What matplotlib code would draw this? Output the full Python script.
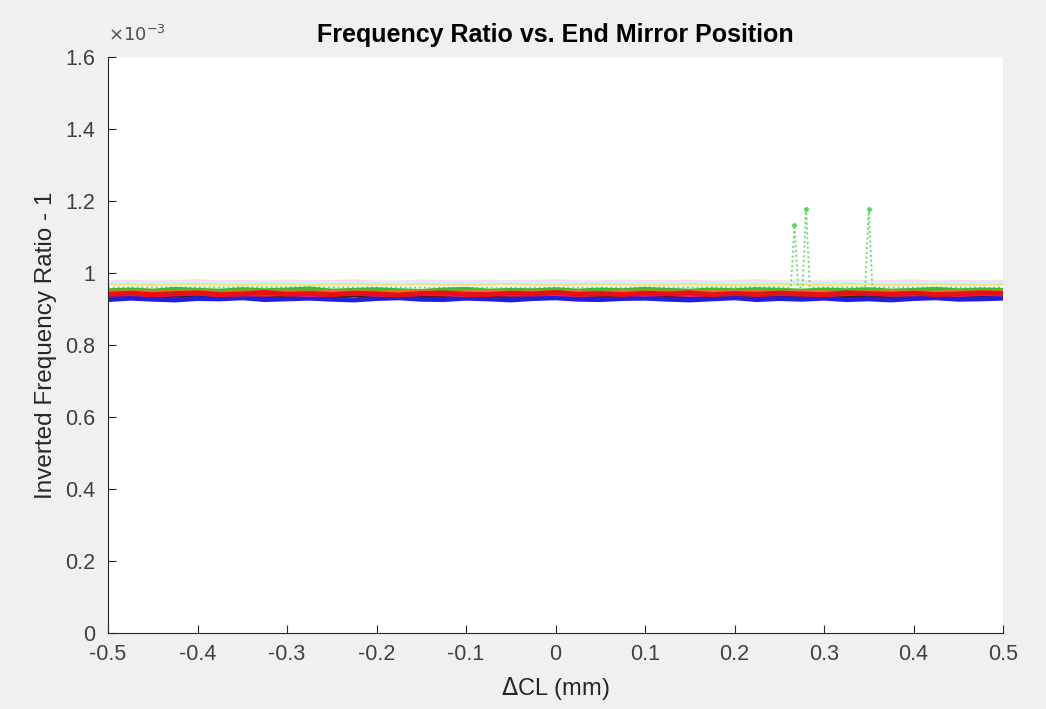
import matplotlib
matplotlib.use("Agg")
import matplotlib.pyplot as plt
from matplotlib.ticker import FuncFormatter
import numpy as np

plt.rcParams['font.family'] = ['Liberation Sans', 'DejaVu Sans']

# positions along the cavity (mm)
x_mm = [-0.500, -0.475, -0.450, -0.425, -0.400, -0.375, -0.350, -0.325, -0.300, -0.275,
        -0.250, -0.225, -0.200, -0.175, -0.150, -0.125, -0.100, -0.075, -0.050, -0.025,
        0.000, 0.025, 0.050, 0.075, 0.100, 0.125, 0.150, 0.175, 0.200, 0.225,
        0.250, 0.275, 0.300, 0.325, 0.350, 0.375, 0.400, 0.425, 0.450, 0.475,
        0.500]

# inverted frequency ratio - 1, in units of 1e-6
blue = [926, 930, 927, 925, 929, 928, 931, 926, 928, 930,
        927, 925, 929, 931, 927, 926, 930, 928, 925, 929,
        931, 927, 926, 929, 930, 927, 925, 928, 931, 926,
        929, 927, 930, 926, 928, 925, 929, 931, 927, 928,
        930]
red = [941, 944, 940, 943, 945, 940, 942, 946, 941, 943,
       940, 944, 942, 939, 943, 945, 941, 940, 944, 942,
       946, 941, 943, 940, 944, 942, 945, 940, 943, 941,
       944, 942, 940, 945, 943, 941, 944, 940, 942, 945,
       943]
dark = [935, 937, 934, 938, 936, 933, 937, 935, 938, 934,
        936, 939, 935, 933, 937, 936, 938, 934, 936, 937,
        935, 938, 934, 936, 937, 935, 933, 938, 936, 934,
        937, 935, 938, 936, 934, 937, 935, 936, 938, 934,
        936]
orange = [946, 948, 945, 947, 949, 944, 947, 946, 948, 945,
          947, 949, 945, 946, 948, 944, 947, 949, 945, 947,
          948, 946, 944, 947, 949, 946, 945, 948, 946, 947,
          945, 948, 946, 944, 947, 949, 946, 945, 948, 946,
          947]
green = [951, 953, 950, 955, 952, 950, 954, 951, 953, 956,
         950, 952, 954, 951, 949, 953, 955, 950, 952, 951,
         954, 950, 953, 951, 955, 952, 950, 953, 951, 954,
         952, 950, 953, 951, 954, 950, 952, 955, 951, 953,
         952]
magenta = [939, 941, 938, 940, 942, 938, 940, 939, 941, 938,
           940, 942, 939, 938, 941, 940, 938, 942, 939, 940,
           941, 938, 940, 942, 939, 941, 938, 940, 942, 939,
           941, 940, 938, 941, 943, 939, 940, 942, 938, 941,
           940]
pale_yellow = [968, 969, 967, 968, 969, 968, 967, 969, 968, 967,
               968, 969, 968, 967, 969, 968, 967, 968, 969, 968,
               967, 968, 969, 968, 967, 968, 969, 968, 967, 968,
               969, 968, 967, 969, 968, 967, 968, 969, 968, 967,
               968]
pale_pink = [974, 976, 973, 975, 977, 974, 975, 973, 976, 974,
             975, 977, 973, 974, 976, 975, 973, 976, 974, 975,
             977, 974, 973, 976, 975, 974, 976, 973, 975, 977,
             974, 975, 973, 976, 974, 975, 977, 973, 975, 974,
             976]
pale_cyan = [971, 972, 970, 973, 971, 972, 970, 971, 973, 970,
             972, 971, 970, 973, 972, 971, 970, 972, 973, 971,
             970, 972, 971, 973, 970, 971, 972, 970, 973, 971,
             972, 970, 971, 973, 972, 970, 971, 972, 970, 973,
             971]

# green dotted trace with the spikes
spike_x = [-0.500, -0.300, -0.100, 0.100, 0.250, 0.263, 0.267, 0.271, 0.276, 0.280,
           0.284, 0.290, 0.340, 0.346, 0.350, 0.354, 0.360, 0.500]
spike_y = [960, 961, 959, 960, 961, 960, 1133, 961, 960, 1178,
           962, 960, 961, 960, 1178, 961, 960, 960]

fig = plt.figure(figsize=(10.46, 7.09), dpi=100, facecolor='#f0f0f0')
ax = fig.add_axes([0.1033, 0.1072, 0.8556, 0.8124])
ax.set_facecolor('white')

s = 1e-6
ax.plot(x_mm, np.array(pale_pink) * s, color='#ffd6f2', lw=3)
ax.plot(x_mm, np.array(pale_cyan) * s, color='#c6f6f8', lw=3)
ax.plot(x_mm, np.array(pale_yellow) * s, color='#f5e27a', lw=1.5)
ax.plot(spike_x, np.array(spike_y) * s, color='#5ad85a', lw=1.3, ls=':',
        marker='.', ms=5, markevery=[6, 9, 14])
ax.plot(x_mm, np.array(green) * s, color='#33c033', lw=3.5)
ax.plot(x_mm, np.array(orange) * s, color='#d8782a', lw=3.5)
ax.plot(x_mm, np.array(dark) * s, color='#3a1a20', lw=3.5)
ax.plot(x_mm, np.array(blue) * s, color='#2020d8', lw=3.5)
ax.plot(x_mm, np.array(magenta) * s, color='#e0208a', lw=2.5)
ax.plot(x_mm, np.array(red) * s, color='#e81010', lw=3.5)

ax.set_xlim(-0.5, 0.5)
ax.set_ylim(0, 1.6e-3)
ax.set_xticks(np.arange(-0.5, 0.51, 0.1))
ax.set_yticks(np.arange(0, 1.61e-3, 0.2e-3))
ax.xaxis.set_major_formatter(FuncFormatter(lambda v, p: '%g' % (round(v, 2) + 0.0)))
ax.yaxis.set_major_formatter(FuncFormatter(lambda v, p: '%g' % (round(v * 1e3, 2) + 0.0)))
ax.text(0.0, 1.02, r'$\times10^{-3}$', transform=ax.transAxes, fontsize=13,
        color='#505050', ha='left', va='bottom')

for side in ['top', 'right']:
    ax.spines[side].set_visible(False)
for side in ['left', 'bottom']:
    ax.spines[side].set_color('#262626')
ax.tick_params(direction='in', length=6, labelsize=15.5, colors='#262626')
ax.tick_params(axis='y', pad=9)
ax.tick_params(axis='x', pad=8)
for lab in ax.get_xticklabels() + ax.get_yticklabels():
    lab.set_color('#404040')

ax.set_title('Frequency Ratio vs. End Mirror Position', fontsize=18,
             fontweight='bold', pad=11)
ax.set_xlabel(r'$\Delta$CL (mm)', fontsize=17, color='#262626', labelpad=7)
ax.set_ylabel('Inverted Frequency Ratio - 1', fontsize=17.5, color='#262626', labelpad=6)

fig.savefig('out.png', dpi=100, facecolor=fig.get_facecolor())
